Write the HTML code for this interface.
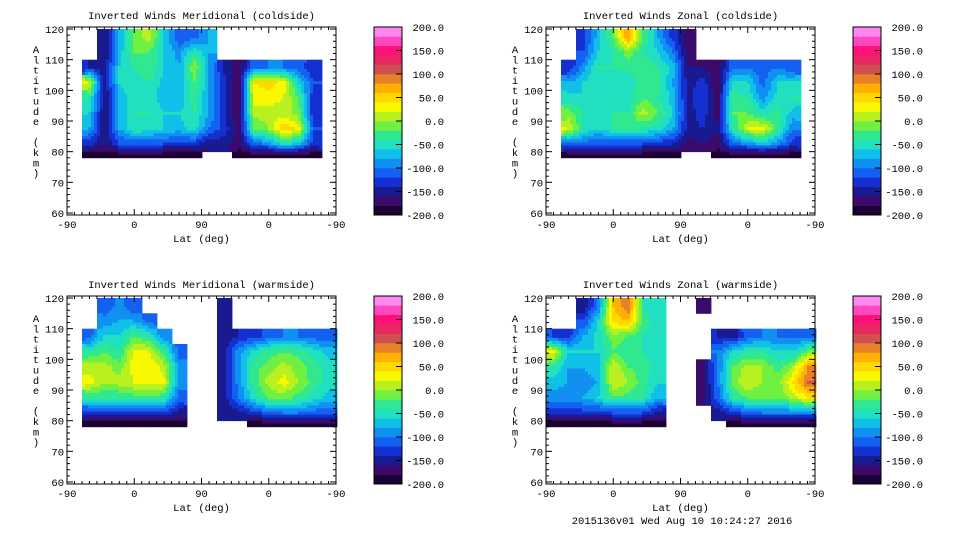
<!DOCTYPE html>
<html><head><meta charset="utf-8">
<style>
html,body{margin:0;padding:0;background:#fff;width:960px;height:540px;overflow:hidden}
svg{display:block}
text{font-family:"Liberation Mono","DejaVu Sans Mono",monospace;font-size:10.5px;fill:#000}
</style></head>
<body>
<svg id="fig" width="960" height="540" viewBox="0 0 960 540" xmlns="http://www.w3.org/2000/svg">
<text x="682" y="524" text-anchor="middle">2015136v01 Wed Aug 10 10:24:27 2016</text>
</svg>
<script>
// ----- data -----
const colTicks = ["-90","0","90","0","-90"];
const altTicks = [60,70,80,90,100,110,120];
const cbarTicks = ["200.0","150.0","100.0","50.0","0.0","-50.0","-100.0","-150.0","-200.0"];
const altEdges = [120,115,110,105,100,95,90,85,80,78];
const titles = ["Inverted Winds Meridional (coldside)","Inverted Winds Zonal (coldside)","Inverted Winds Meridional (warmside)","Inverted Winds Zonal (warmside)"];
const N = null;
const merCold = [
[N,N,N,N,N,N,N,N,N],
[N,N,-140,20,-40,-60,-80,-130,-190],
[-160,-160,-160,-160,-160,-160,-160,-160,-190],
[-80,-70,-60,-60,-70,-80,-80,-120,-190],
[-10,-20,-40,-50,-50,-40,-40,-120,-190],
[10,-20,-20,-40,-50,-40,-50,-120,-190],
[-60,-60,-60,-70,-70,-60,-60,-120,-190],
[-120,-90,-80,-80,-80,-60,-70,-130,-190],
[-110,-40,0,-20,-30,-40,-50,-130,-190],
[-80,-80,-80,-80,-80,-80,-100,-160,N],
[N,N,-150,-130,-130,-130,-130,-150,N],
[N,N,-170,-180,-180,-180,-170,-170,-190],
[N,N,-110,40,30,10,-20,-110,-190],
[N,N,-100,50,30,10,0,-90,-190],
[N,N,-100,30,20,10,60,-50,-190],
[N,N,-110,-60,-20,-10,30,-70,-190],
[N,N,-140,-120,-140,-140,-120,-130,-190],
[N,N,N,N,N,N,N,N,N]];
const zonCold = [
[N,N,N,N,N,N,N,N,N],
[N,N,-140,-80,-50,-10,20,-110,-190],
[-130,-120,-90,-60,-60,-40,-40,-110,-190],
[-70,-60,-40,-40,-50,-60,-60,-120,-190],
[-20,-40,-40,-60,-60,-40,-40,-120,-190],
[80,-10,-30,-60,-50,-40,-20,-120,-190],
[-20,-40,-30,-20,-20,10,-40,-120,-190],
[-80,-60,-40,-30,-40,-20,-50,-130,-190],
[-130,-100,-70,-80,-70,-60,-80,-140,-190],
[-170,-170,-160,-150,-150,-150,-150,-170,N],
[N,N,-160,-130,-120,-130,-140,-160,N],
[N,N,-170,-180,-170,-170,-160,-170,-190],
[N,N,-110,-50,-30,-20,-40,-110,-190],
[N,N,-100,-60,-40,-20,20,-90,-190],
[N,N,-110,-110,-90,-50,30,-70,-190],
[N,N,-100,-60,-50,-30,-30,-90,-190],
[N,N,-120,-60,-40,-70,-100,-130,-190],
[N,N,N,N,N,N,N,N,N]];
const merWarm = [
[N,N,N,N,N,N,N,N,N],
[N,N,-110,-40,10,30,-40,-130,-190],
[-120,-90,-60,-20,10,0,-40,-130,-190],
[-90,-80,-60,-40,-10,10,-40,-130,-190],
[-120,-80,-20,30,30,20,-30,-130,-190],
[N,-110,-40,20,40,30,-20,-130,-190],
[N,N,-100,-30,10,30,-40,-130,-190],
[N,N,N,-110,-90,-90,-110,-150,-190],
[N,N,N,N,N,N,N,N,N],
[N,N,N,N,N,N,N,N,N],
[-150,-150,-150,-150,-150,-150,-150,-150,N],
[N,N,-140,-90,-90,-90,-100,-150,N],
[N,N,-130,-50,-30,-30,-50,-130,-190],
[N,N,-110,-30,-10,10,-20,-110,-190],
[N,N,-100,-20,10,30,-10,-100,-190],
[N,N,-100,-30,-10,0,-30,-100,-190],
[N,N,-110,-50,-30,-30,-50,-110,-190],
[N,N,-120,-70,-50,-50,-70,-120,-190]];
const zonWarm = [
[N,N,-120,30,-40,-70,-90,-140,-190],
[N,N,-130,-60,-80,-80,-90,-140,-190],
[-160,-120,-80,-60,-80,-90,-80,-130,-190],
[-100,-60,-50,-60,-70,-80,-60,-130,-190],
[60,50,-10,-20,20,20,-20,-120,-190],
[100,60,-20,-40,-20,0,-30,-120,-190],
[-40,-30,-40,-40,-30,-30,-40,-120,-190],
[-60,-50,-50,-50,-50,-60,-80,-150,-190],
[N,N,N,N,N,N,N,N,N],
[N,N,N,N,N,N,N,N,N],
[-180,N,N,N,-170,-170,-170,N,N],
[N,N,-140,-100,-100,-100,-110,-150,N],
[N,N,-150,-60,-20,-10,-40,-130,-190],
[N,N,-110,-40,10,20,-20,-110,-190],
[N,N,-100,-40,0,0,-20,-100,-190],
[N,N,-100,-60,-30,-10,-20,-100,-190],
[N,N,-110,-60,0,40,10,-100,-190],
[N,N,-110,-20,80,100,40,-100,-190]];
const panelsData = [merCold, zonCold, merWarm, zonWarm];
// color bands bottom (-200) to top (200)
const bandColors = ["#1c0033","#3c0a6a","#1a1a90","#1430d0","#1460f0","#1090f0","#10c0e8","#20e0c0","#30e890","#70f040","#b8f020","#f8f800","#ffd800","#ffb000","#e8802a","#d05050","#e82860","#ff1078","#ff48c0","#ff88f0"];

// ----- drawing -----
const NS="http://www.w3.org/2000/svg";
const svg=document.getElementById('fig');
function mk(tag,attrs,parent){const e=document.createElementNS(NS,tag);for(const k in attrs)e.setAttribute(k,attrs[k]);(parent||svg).appendChild(e);return e;}
const layouts=[{x:67,y:27},{x:546,y:27},{x:67,y:296},{x:546,y:296}];
const PW=269,PH=188;
function colorFor(v){let i=Math.floor((v+200)/20);if(i<0)i=0;if(i>19)i=19;return bandColors[i];}

layouts.forEach((L,p)=>{
  const g=mk('g',{});
  
  
  const yOf=a=>L.y+2+(120-a)*(PH-4)/60;
  const xOf=u=>L.x+u/360*PW;
  const grid=panelsData[p];
  const nc=grid.length, nr=altEdges.length-1;
  const cw=360/nc;
  const rowC=[];for(let r=0;r<nr;r++)rowC.push((altEdges[r]+altEdges[r+1])/2);
  const get=(c,r)=>{c=Math.max(0,Math.min(nc-1,c));r=Math.max(0,Math.min(nr-1,r));return grid[c][r];};
  const step=3;
  const field=mk('g',{},g);
  
  
  for(let u=0;u<360;u+=step*360/PW){
    const ci=Math.floor(u/cw);
    for(let r=0;r<nr;r++){
      const base=grid[ci][r];
      if(base===null)continue;
      const a0=altEdges[r],a1=altEdges[r+1];
      const sub=Math.max(1,Math.round((yOf(a1)-yOf(a0))/step));
      for(let s=0;s<sub;s++){
        const a=a0+(a1-a0)*(s+0.5)/sub;
        const uc=u+step*180/PW;
        const fc=uc/cw-0.5; const c0=Math.floor(fc); const tx=fc-c0;
        let rr=0;for(let k=0;k<nr-1;k++){if(a<=rowC[k]&&a>=rowC[k+1]){rr=k;}}
        if(a>rowC[0])rr=0; if(a<rowC[nr-1])rr=nr-2;
        let ty=(rowC[rr]-a)/(rowC[rr]-rowC[rr+1]);ty=Math.max(0,Math.min(1,ty));
        const f=(c,rw)=>{const v=get(c,rw);return v===null?base:v;};
        const v=(1-tx)*((1-ty)*f(c0,rr)+ty*f(c0,rr+1))+tx*((1-ty)*f(c0+1,rr)+ty*f(c0+1,rr+1));
        const y0=yOf(a0)+(yOf(a1)-yOf(a0))*s/sub, y1=yOf(a0)+(yOf(a1)-yOf(a0))*(s+1)/sub;
        const rc=mk('rect',{x:xOf(u).toFixed(1),y:y0.toFixed(1),width:(step+0.4),height:(y1-y0+0.4).toFixed(1),fill:colorFor(v)},field);
        
        
      }
    }
  }
  const fr=mk('rect',{x:L.x,y:L.y,width:PW,height:PH,fill:'none',stroke:'#000','stroke-width':1},g);
  
  
  for(let a=60;a<=120;a+=2){const y=yOf(a);const len=(a%10===0)?6:3;
    mk('line',{x1:L.x,x2:L.x+len,y1:y,y2:y,stroke:'#000'},g);mk('line',{x1:L.x+PW,x2:L.x+PW-len,y1:y,y2:y,stroke:'#000'},g);}
  for(let u=0;u<=360;u+=10){const x=xOf(u);const len=(u%90===0)?6:3;
    mk('line',{x1:x,x2:x,y1:L.y+PH,y2:L.y+PH-len,stroke:'#000'},g);mk('line',{x1:x,x2:x,y1:L.y,y2:L.y+len,stroke:'#000'},g);}
  altTicks.forEach(a=>{const t=mk('text',{x:L.x-3,y:yOf(a)+4,'text-anchor':'end'},g);t.textContent=a;
    });
  colTicks.forEach((s,i)=>{const t=mk('text',{x:xOf(i*90),y:L.y+PH+13,'text-anchor':'middle'},g);t.textContent=s;
    });
  const tt=mk('text',{x:L.x+PW/2,y:L.y-8,'text-anchor':'middle'},g);tt.textContent=titles[p];
  
  const xl=mk('text',{x:L.x+PW/2,y:L.y+PH+27,'text-anchor':'middle'},g);xl.textContent='Lat (deg)';
  
  const yl=mk('text',{x:L.x-31,y:L.y+26,'text-anchor':'middle'},g);
  
  'Altitude (km)'.split('').forEach((ch,i)=>{const ts=mk('tspan',{x:L.x-31,y:L.y+26+i*10.3},yl);ts.textContent=ch;});
  const cb=mk('g',{},g);
  const bx=L.x+307,bw=28,bh=PH/bandColors.length;
  bandColors.forEach((c,i)=>{const r=mk('rect',{x:bx,y:(L.y+PH-(i+1)*bh).toFixed(2),width:bw,height:(bh+0.3).toFixed(2),fill:c},cb);
    });
  mk('rect',{x:bx,y:L.y,width:bw,height:PH,fill:'none',stroke:'#000'},cb);
  cbarTicks.forEach((s,i)=>{const y=L.y+i*PH/(cbarTicks.length-1);
    mk('line',{x1:bx+bw-6,x2:bx+bw,y1:y,y2:y,stroke:'#000'},cb);
    const t=mk('text',{x:bx+70,y:y+4,'text-anchor':'end'},cb);t.textContent=s;
    });
});
</script>
</body></html>
